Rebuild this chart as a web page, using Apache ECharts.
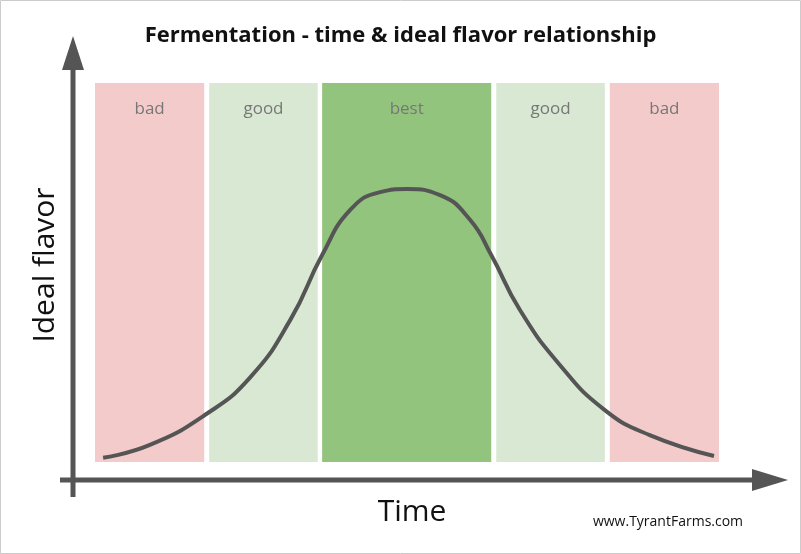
<!DOCTYPE html>
<html><head><meta charset="utf-8">
<script src="https://cdn.jsdelivr.net/npm/echarts@6/dist/echarts.min.js"></script>
<style>html,body{margin:0;padding:0;background:#fff}#c{width:801px;height:554px}</style>
</head><body><div id="c"></div>
<script>
const bandNames = ['bad','good','best','good','bad'];
const bandStarts = [0, 18.3, 36.4, 64.3, 82.5];
const bandEnds = [17.5, 35.7, 63.5, 81.7, 100];
const bandColors = ['#f4cbcb','#d9e8d3','#93c47d','#d9e8d3','#f4cbcb'];
const curveTime = [1.3,8.8,17.6,24.8,31.3,36.4,40.9,45.7,50,55.3,60.1,63.5,68.1,74.5,81.7,88.9,99.2];
const curveFlavor = [1.1,4.5,12.4,22.2,37.5,54.6,66.5,71.2,72,70.4,63.9,54.6,40.1,25.6,13.7,7.1,1.6];

const chart = echarts.init(document.getElementById('c'));
chart.setOption({
  animation:false,
  title:{text:'Fermentation - time & ideal flavor relationship',left:'center',top:20,
    textStyle:{fontFamily:'Open Sans',fontWeight:'bold',fontSize:22,color:'#111'}},
  grid:{left:95,right:82,top:83,bottom:92},
  xAxis:{type:'value',min:0,max:100,show:false},
  yAxis:{type:'value',min:0,max:100,show:false},
  series:[{
    type:'line',smooth:0.5,symbol:'none',
    data:curveTime.map((t,i)=>[t,curveFlavor[i]]),
    lineStyle:{color:'#555',width:4},
    markArea:{silent:true,
      label:{position:'insideTop',distance:18,color:'#777',fontSize:17,fontFamily:'Open Sans'},
      data:bandNames.map((n,i)=>[{name:n,xAxis:bandStarts[i],yAxis:0,itemStyle:{color:bandColors[i]}},{xAxis:bandEnds[i],yAxis:100}])
    },
    z:3
  }],
  graphic:[
    {type:'rect',shape:{x:0.5,y:0.5,width:800,height:553},style:{fill:'none',stroke:'#ccc',lineWidth:1}},
    {type:'line',shape:{x1:73,y1:65,x2:73,y2:497},style:{stroke:'#555',lineWidth:5}},
    {type:'polygon',shape:{points:[[73,36],[62,70],[84,70]]},style:{fill:'#555'}},
    {type:'line',shape:{x1:60,y1:480,x2:760,y2:480},style:{stroke:'#555',lineWidth:5}},
    {type:'polygon',shape:{points:[[788,480],[752,469],[752,491]]},style:{fill:'#555'}},
    {type:'text',x:45,y:265,rotation:Math.PI/2,style:{text:'Ideal flavor',fontSize:30,fontFamily:'Open Sans',fill:'#111',align:'center',verticalAlign:'middle'}},
    {type:'text',x:412,y:512,style:{text:'Time',fontSize:30,fontFamily:'Open Sans',fill:'#111',align:'center',verticalAlign:'middle'}},
    {type:'text',x:668,y:522,style:{text:'www.TyrantFarms.com',fontSize:14,fontFamily:'Open Sans',fill:'#111',align:'center',verticalAlign:'middle'}}
  ]
});
</script></body></html>
